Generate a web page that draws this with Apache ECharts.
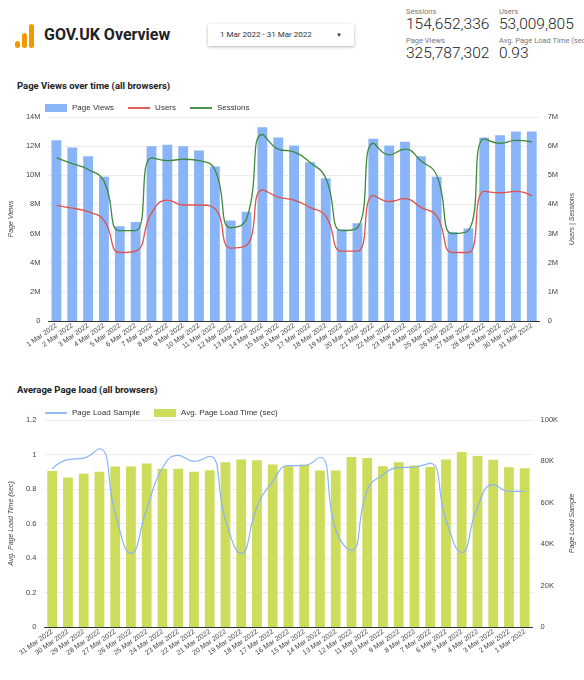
<!DOCTYPE html>
<html>
<head>
<meta charset="utf-8">
<title>GOV.UK Overview</title>
<script src="https://cdn.jsdelivr.net/npm/echarts@6/dist/echarts.min.js"></script>
<style>
  html, body { margin: 0; width: 584px; height: 680px; background: #fff; font-family: Roboto, sans-serif; overflow: hidden; }
  #head { position: absolute; left: 0; top: 0; width: 584px; height: 70px; }
  .logo { position: absolute; left: 15px; top: 24px; width: 20px; height: 24px; }
  .logo span { position: absolute; bottom: 0; width: 5px; border-radius: 3px; background: #f29900; }
  .brand { position: absolute; left: 44px; top: 25px; font-size: 16px; font-weight: bold; color: #202124; }
  .range { position: absolute; left: 208px; top: 24px; width: 146px; height: 22px; box-shadow: 0 1px 3px rgba(0,0,0,.3); font-size: 8px; color: #333; line-height: 22px; padding-left: 12px; box-sizing: border-box; }
  .range b { position: absolute; right: 12px; top: 0; font-size: 6px; font-weight: normal; }
  .kpi { position: absolute; color: #202124; white-space: nowrap; }
  .kpi small { display: block; font-size: 7.5px; color: #777; line-height: 9px; }
  .kpi div { font-size: 15.5px; line-height: 16px; font-weight: 300; }
  .ttl { position: absolute; left: 17px; font-size: 9.5px; font-weight: bold; color: #202124; }
  #c1 { position: absolute; left: 0; top: 95px; width: 584px; height: 262px; }
  #c2 { position: absolute; left: 0; top: 398px; width: 584px; height: 282px; }
</style>
</head>
<body>
<div id="head">
  <div class="logo"><span style="left:0;height:7px"></span><span style="left:7px;height:15px"></span><span style="left:14px;height:24px"></span></div>
  <div class="brand">GOV.UK Overview</div>
  <div class="range">1 Mar 2022 - 31 Mar 2022<b>&#9660;</b></div>
  <div class="kpi" style="left:406px;top:7px"><small>Sessions</small><div>154,652,336</div></div>
  <div class="kpi" style="left:499px;top:7px"><small>Users</small><div>53,009,805</div></div>
  <div class="kpi" style="left:406px;top:36px"><small>Page Views</small><div>325,787,302</div></div>
  <div class="kpi" style="left:499px;top:36px"><small>Avg. Page Load Time (sec)</small><div>0.93</div></div>
</div>
<div class="ttl" style="top:80px">Page Views over time (all browsers)</div>
<div id="c1"></div>
<div class="ttl" style="top:384px">Average Page load (all browsers)</div>
<div id="c2"></div>
<script>
var days = [];
for (var d = 1; d <= 31; d++) days.push(d + ' Mar 2022');

// top chart, 1..31 Mar
var pageViews = [12.4, 11.9, 11.3, 9.9, 6.5, 6.8, 12.0, 12.1, 12.0, 11.7, 10.6, 6.9, 7.5, 13.3, 12.6,
  12.05, 10.9, 9.8, 6.3, 6.7, 12.5, 12.05, 12.3, 11.3, 9.9, 6.1, 6.35, 12.6, 12.75, 13.0, 13.0];
var users = [3.97, 3.87, 3.75, 3.45, 2.35, 2.4, 3.7, 4.15, 3.98, 3.98, 3.85, 2.5, 2.6, 4.5, 4.25,
  4.15, 3.9, 3.6, 2.4, 2.4, 4.3, 4.1, 4.2, 3.9, 3.6, 2.35, 2.35, 4.45, 4.4, 4.45, 4.3];
var sessions = [5.6, 5.4, 5.2, 4.8, 3.1, 3.1, 5.6, 5.5, 5.55, 5.5, 5.2, 3.2, 3.5, 6.4, 5.9,
  5.8, 5.45, 4.9, 3.1, 3.2, 6.1, 5.7, 5.9, 5.5, 5.0, 3.0, 3.1, 6.25, 6.1, 6.2, 6.15];

// bottom chart, listed 31 Mar down to 1 Mar
var loadDays = days.slice().reverse();
var avgLoad = [0.905, 0.866, 0.889, 0.90, 0.93, 0.93, 0.948, 0.918, 0.918, 0.90, 0.909, 0.955, 0.971, 0.967,
  0.942, 0.932, 0.942, 0.907, 0.907, 0.986, 0.98, 0.932, 0.955, 0.936, 0.928, 0.971, 1.015, 0.992, 0.969, 0.926, 0.92];
var loadSample = [76.4, 80.9, 81.6, 86.1, 55, 35.6, 57, 76.8, 82.9, 80, 82.5, 51.8, 35.6, 58, 70.4,
  78, 78, 82, 47, 37, 66, 73.6, 77, 77.3, 79, 51.8, 36, 58, 68.8, 65.5, 65.5];

var lineIcon = 'path://M0,0H24V2H0Z';
var xLbl = { fontSize: 7, color: '#444', rotate: 35, interval: 0, margin: 4 };
var split = { lineStyle: { color: '#ececec' } };
var nameStyle = { fontSize: 7, color: '#444', fontStyle: 'italic' };

var c1 = echarts.init(document.getElementById('c1'));
c1.setOption({
  animation: false,
  legend: { top: 4, left: 40, itemWidth: 22, itemHeight: 8, itemGap: 14, textStyle: { fontSize: 8, color: '#333' },
    data: [{ name: 'Page Views', icon: 'rect' }, { name: 'Users', icon: lineIcon }, { name: 'Sessions', icon: lineIcon }] },
  grid: { left: 43, right: 30, top: 22, bottom: 36 },
  xAxis: { type: 'category', data: days, axisLabel: xLbl, axisTick: { show: false },
    axisLine: { lineStyle: { color: '#333' } } },
  yAxis: [
    { type: 'value', min: 0, max: 14, interval: 2, name: 'Page Views', nameLocation: 'middle', nameGap: 26, nameTextStyle: nameStyle,
      axisLabel: { fontSize: 7.5, color: '#444', formatter: function (v) { return v === 0 ? '0' : v + 'M'; } }, splitLine: split },
    { type: 'value', min: 0, max: 7, interval: 1, name: 'Users | Sessions', nameLocation: 'middle', nameGap: 16, nameTextStyle: nameStyle,
      axisLabel: { fontSize: 7.5, color: '#444', formatter: function (v) { return v === 0 ? '0' : v + 'M'; } }, splitLine: { show: false } }
  ],
  series: [
    { name: 'Page Views', type: 'bar', data: pageViews, barWidth: '62%', itemStyle: { color: '#8ab4f8' } },
    { name: 'Users', type: 'line', yAxisIndex: 1, data: users, smooth: 0.5, showSymbol: false, lineStyle: { color: '#e0524a', width: 1.3 }, itemStyle: { color: '#e0524a' } },
    { name: 'Sessions', type: 'line', yAxisIndex: 1, data: sessions, smooth: 0.5, showSymbol: false, lineStyle: { color: '#3c8a3a', width: 1.3 }, itemStyle: { color: '#3c8a3a' } }
  ]
});

var c2 = echarts.init(document.getElementById('c2'));
c2.setOption({
  animation: false,
  legend: { top: 6, left: 40, itemWidth: 22, itemHeight: 8, itemGap: 14, textStyle: { fontSize: 8, color: '#333' },
    data: [{ name: 'Page Load Sample', icon: lineIcon }, { name: 'Avg. Page Load Time (sec)', icon: 'rect' }] },
  grid: { left: 43, right: 30, top: 22, bottom: 53 },
  xAxis: { type: 'category', data: loadDays, axisLabel: xLbl, axisTick: { show: false },
    axisLine: { lineStyle: { color: '#333' } } },
  yAxis: [
    { type: 'value', min: 0, max: 1.2, interval: 0.2, name: 'Avg. Page Load Time (sec)', nameLocation: 'middle', nameGap: 24, nameTextStyle: nameStyle,
      axisLabel: { fontSize: 7.5, color: '#444', formatter: function (v) { return String(Math.round(v * 10) / 10); } }, splitLine: split },
    { type: 'value', min: 0, max: 100, interval: 20, name: 'Page Load Sample', nameLocation: 'middle', nameGap: 20, nameTextStyle: nameStyle,
      axisLabel: { fontSize: 7.5, color: '#444', formatter: function (v) { return v === 0 ? '0' : v + 'K'; } }, splitLine: { show: false } }
  ],
  series: [
    { name: 'Avg. Page Load Time (sec)', type: 'bar', data: avgLoad, barWidth: '62%', itemStyle: { color: '#cddc5a' } },
    { name: 'Page Load Sample', type: 'line', yAxisIndex: 1, data: loadSample, smooth: 0.5, showSymbol: false, z: 5,
      lineStyle: { color: '#8ab4f8', width: 1.2 }, itemStyle: { color: '#8ab4f8' } }
  ]
});
</script>
</body>
</html>
